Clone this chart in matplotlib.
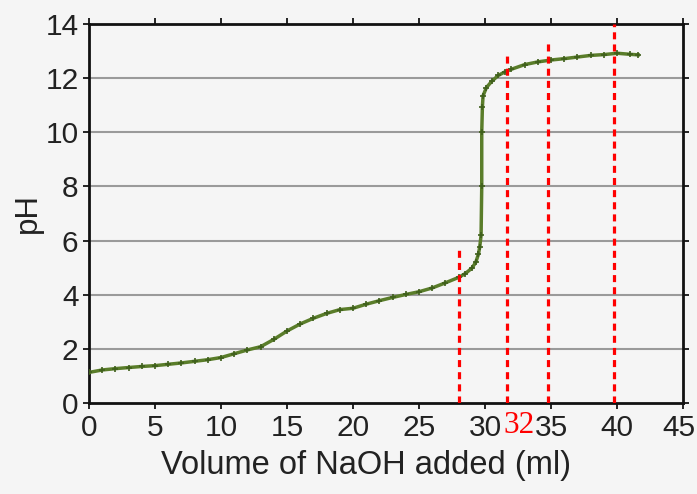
import numpy as np
import matplotlib
matplotlib.use("Agg")
import matplotlib.pyplot as plt
from matplotlib.transforms import ScaledTranslation

# titration curve
volume = [0, 1, 2, 3, 4, 5, 6, 7, 8, 9, 10, 11, 12, 13, 14, 15, 16, 17, 18, 19,
          20, 21, 22, 23, 24, 25, 26, 27, 28, 28.5, 29, 29.3, 29.5, 29.6, 29.7,
          29.75, 29.75, 29.8, 29.85, 30.1, 30.5, 31, 31.5, 32, 33, 34, 35, 36,
          37, 38, 39, 40, 41, 41.6]
ph = [1.13, 1.22, 1.27, 1.31, 1.35, 1.38, 1.43, 1.48, 1.54, 1.60, 1.68, 1.82,
      1.96, 2.08, 2.35, 2.66, 2.92, 3.13, 3.31, 3.45, 3.50, 3.65, 3.78, 3.90,
      4.01, 4.11, 4.25, 4.44, 4.64, 4.78, 4.98, 5.20, 5.50, 5.77, 6.20, 8.00,
      10.00, 10.95, 11.35, 11.65, 11.88, 12.10, 12.23, 12.33, 12.50, 12.60,
      12.67, 12.72, 12.78, 12.84, 12.87, 12.92, 12.88, 12.86]

# red dotted markers drawn over the chart
mark_x = [28, 31.7, 34.8, 39.8]
mark_top = [5.8, 12.8, 13.35, 14.0]
mark_label = "32"
mark_label_x = 32.6

x_ticks = [0, 5, 10, 15, 20, 25, 30, 35, 40, 45]
y_ticks = [0, 2, 4, 6, 8, 10, 12, 14]

bg = "#f5f5f5"
txt = "#222222"
fig = plt.figure(figsize=(6.97, 4.94), dpi=100, facecolor=bg)
ax = fig.add_axes([0.1277, 0.1842, 0.8523, 0.7672])
ax.set_facecolor(bg)

ax.set_xlim(0, 45)
ax.set_ylim(0, 14)
ax.set_xticks(x_ticks)
ax.set_yticks(y_ticks)

for y in y_ticks[1:-1]:
    ax.axhline(y, color="#9a9a9a", lw=1.5, zorder=1)

ax.plot(volume, ph, color="#5a7d2a", lw=2.5, marker="+", ms=5,
        mec="#3f5f1c", mew=1.2, zorder=3)

ax.vlines(mark_x, 0, mark_top, colors="red", lw=2.3,
          linestyles=(0, (2.2, 1.6)), zorder=4)

ax.text(mark_label_x, -0.3, mark_label, color="red", fontsize=22.5,
        family="Liberation Serif", ha="center", va="top", zorder=5)

for s in ax.spines.values():
    s.set_linewidth(2)
    s.set_color("#111111")

ax.tick_params(axis="both", which="both", direction="out", length=4,
               width=1.2, top=True, right=True, labelsize=21.5,
               labelcolor=txt)
ax.tick_params(axis="x", pad=4)
ax.tick_params(axis="y", pad=3.5)
for lab in ax.get_xticklabels() + ax.get_yticklabels():
    lab.set_family("Liberation Sans")

# last x label sits right at the figure edge, pull it in a little
last = ax.xaxis.get_major_ticks()[-1].label1
last.set_transform(last.get_transform()
                   + ScaledTranslation(-3 / 72, 0, fig.dpi_scale_trans))

ax.set_xlabel("Volume of NaOH added (ml)", fontsize=23.5,
              family="Liberation Sans", color=txt)
ax.xaxis.set_label_coords(0.466, -0.125)
ax.set_ylabel("pH", fontsize=22.5, family="Liberation Sans",
              color=txt, labelpad=2)

fig.savefig("out.png", dpi=100, facecolor=bg)
